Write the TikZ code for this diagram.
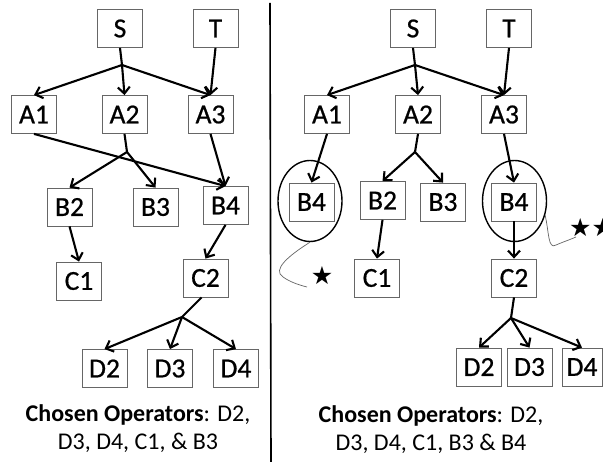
\documentclass[tikz,border=0pt]{standalone}
\usepackage{fontspec}
\setmainfont{Carlito}
\newfontfamily\labelfont[FakeBold=0.7]{Carlito}
\newfontfamily\starfont{DejaVu Sans}
\usetikzlibrary{arrows.meta,shapes.geometric}
\begin{document}
\begin{tikzpicture}[x=1pt,y=-1pt,
  box/.style={draw=black!60,line width=0.8pt,minimum width=45pt,minimum height=38pt,inner sep=0pt,font=\labelfont\fontsize{27.5}{27.5}\selectfont},
  arr/.style={line width=2.1pt,-{Straight Barb[length=6.5pt,width=12pt,line width=2.1pt]}},
  ln/.style={line width=2.1pt},
  oval/.style={draw,ellipse,line width=1.4pt,minimum width=64pt,minimum height=81pt,inner sep=0pt},
  squig/.style={draw=black!60,line width=0.7pt},
  caption/.style={align=center,font=\fontsize{24}{28}\selectfont},
  starnode/.style={font=\starfont\fontsize{25}{25}\selectfont,inner sep=0pt}]
\useasboundingbox (0,0) rectangle (603,462);
\fill[white] (0,0) rectangle (603,462);
% divider
\coordinate (dtop) at (270,3);
\coordinate (dbot) at (271,462);
\draw[line width=1.6pt] (dtop) -- (dbot);
% ---------- left ----------
\node[box] (lS) at (120,28.5) {S};
\node[box] (lT) at (215.5,28.5) {T};
\node[box] (lA1) at (34,114.5) {A1};
\node[box] (lA2) at (124.5,114.5) {A2};
\node[box] (lA3) at (210.5,114.5) {A3};
\node[box] (lB2) at (69.5,207) {B2};
\node[box] (lB3) at (155.5,207) {B3};
\node[box] (lB4) at (225.5,205.5) {B4};
\node[box] (lC1) at (79,281) {C1};
\node[box] (lC2) at (205.5,278) {C2};
\node[box] (lD2) at (104.5,368.5) {D2};
\node[box] (lD3) at (170,368.5) {D3};
\node[box] (lD4) at (236,368.5) {D4};
\coordinate (lSb) at (122,65);
\coordinate (lA2b) at (127,152);
\coordinate (lC2b) at (182,317);
\draw[ln] (lS.south) -- (lSb);
\draw[arr] (lSb) -- (lA1.north);
\draw[arr] (lSb) -- (lA2.north);
\draw[arr] (lSb) -- (lA3.north);
\draw[arr] (lT.south) -- (lA3.north);
\draw[arr] (lA1.south) -- (lB4.north);
\draw[ln] (lA2.south) -- (lA2b);
\draw[arr] (lA2b) -- (lB2.north);
\draw[arr] (lA2b) -- (lB3.north);
\draw[arr] (lA3.south) -- (lB4.north);
\draw[arr] (lB2.south) -- (lC1.north);
\draw[arr] (lB4.south) -- (lC2.north);
\draw[ln] (lC2.south west) ++(19,0) coordinate (lC2s) -- (lC2b);
\draw[arr] (lC2b) -- (lD2.north);
\draw[arr] (lC2b) -- (lD3.north);
\draw[arr] (lC2b) -- (lD4.north);
\node[caption] (lcap) at (138,429) {\textbf{Chosen Operators}: D2,\\D3, D4, C1, \& B3};
% ---------- right ----------
\node[box] (rS) at (413,28.5) {S};
\node[box] (rT) at (509,28.5) {T};
\node[box] (rA1) at (327,114.5) {A1};
\node[box] (rA2) at (418,114.5) {A2};
\node[box] (rA3) at (504,114.5) {A3};
\node[box] (rB4a) at (311.5,202) {B4};
\node[box] (rB2) at (382.5,200.5) {B2};
\node[box] (rB3) at (443,202) {B3};
\node[box] (rB4b) at (514,202) {B4};
\node[oval] (ov1) at (310,201) {};
\node[oval] (ov2) at (514.5,201) {};
\node[box] (rC1) at (377,278) {C1};
\node[box] (rC2) at (514,278) {C2};
\node[box] (rD2) at (479,367) {D2};
\node[box] (rD3) at (529.5,367) {D3};
\node[box,minimum width=40pt] (rD4) at (582,367) {D4};
\coordinate (rSb) at (415,65);
\coordinate (rA2b) at (415,152);
\coordinate (rC2b) at (511,318);
\draw[ln] (rS.south) -- (rSb);
\draw[arr] (rSb) -- (rA1.north);
\draw[arr] (rSb) -- (rA2.north);
\draw[arr] (rSb) -- (rA3.north);
\draw[arr] (rT.south) -- (rA3.north);
\draw[arr] (rA1.south) -- (rB4a.north);
\draw[ln] (rA2.south) -- (rA2b);
\draw[arr] (rA2b) -- (rB2.north);
\draw[arr] (rA2b) -- (rB3.north);
\draw[arr] (rA3.south) -- (rB4b.north);
\draw[arr] (rB2.south) -- (rC1.north);
\draw[arr] (rB4b.south) -- (rC2.north);
\draw[ln] (rC2.south) -- (rC2b);
\draw[arr] (rC2b) -- (rD2.north);
\draw[arr] (rC2b) -- (rD3.north);
\draw[arr] (rC2b) -- (rD4.north);
% squiggles and stars
\node[starnode] (st1) at (322,276) {★};
\node[starnode,anchor=west] (st2) at (569,228) {★★};
\coordinate (q1) at (307,287);
\coordinate (q2) at (576,237);
\draw[squig] (ov1.south) .. controls (288,256) and (272,270) .. (283,277) .. controls (290,282) and (299,285) .. (q1);
\draw[squig] (ov2.-25) .. controls (549,232) and (548,250) .. (556,245) .. controls (563,242) and (569,240) .. (q2);
\node[caption] (rcap) at (431,430) {\textbf{Chosen Operators}: D2,\\D3, D4, C1, B3 \& B4};
\end{tikzpicture}
\end{document}
